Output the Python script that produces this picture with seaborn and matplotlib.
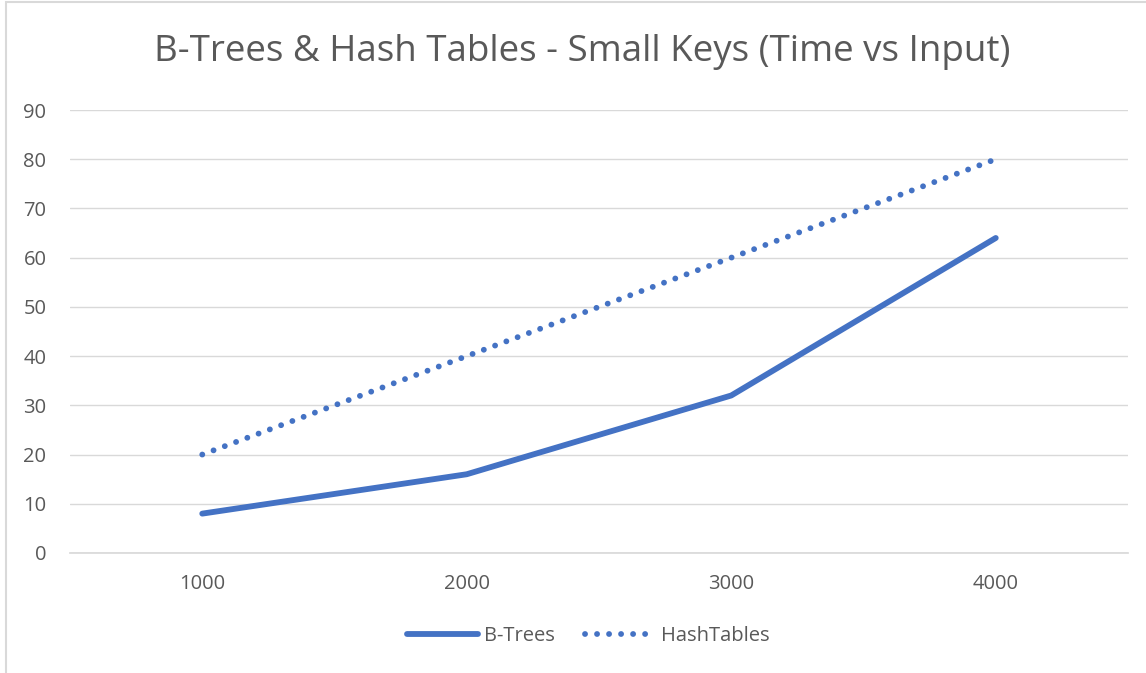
import matplotlib
matplotlib.use("Agg")
import matplotlib.pyplot as plt
import seaborn as sns
import pandas as pd
from matplotlib.patches import Rectangle

# data
inputs = ["1000", "2000", "3000", "4000"]
btrees = [8, 16, 32, 64]
hashtables = [20, 40, 60, 80]

df = pd.DataFrame({
    "Input": inputs * 2,
    "Time": btrees + hashtables,
    "Series": ["B-Trees"] * 4 + ["HashTables"] * 4,
})

sns.set_theme(style="white")
plt.rcParams["font.family"] = ["Open Sans", "DejaVu Sans"]
gray = "#595959"
blue = "#4472C4"
lw = 4.2

fig = plt.figure(figsize=(11.46, 6.73), dpi=100)
ax = fig.add_axes([70 / 1146, 1 - 553 / 673, (1128 - 70) / 1146, (553 - 110) / 673])

sns.lineplot(data=df, x="Input", y="Time", hue="Series", style="Series",
             palette={"B-Trees": blue, "HashTables": blue},
             dashes={"B-Trees": "", "HashTables": (0.01, 2.05)},
             linewidth=lw, ax=ax, legend=True)
for ln in ax.get_lines():
    ln.set_dash_capstyle("round")
    ln.set_solid_capstyle("round")

ax.set_xlim(-0.5, 3.5)
ax.set_ylim(0, 90)
ax.set_yticks(range(0, 91, 10))
ax.yaxis.grid(True, color="#D9D9D9", linewidth=1)
ax.set_axisbelow(True)
for s in ["top", "right", "left"]:
    ax.spines[s].set_visible(False)
ax.spines["bottom"].set_color("#D9D9D9")
ax.tick_params(axis="both", length=0, labelsize=14.5, colors=gray)
ax.tick_params(axis="y", pad=17)
ax.tick_params(axis="x", pad=15)
ax.set_xlabel("")
ax.set_ylabel("")

fig.text(582 / 1146, 1 - 52 / 673, "B-Trees & Hash Tables - Small Keys (Time vs Input)",
         fontsize=26.5, color=gray, ha="center", va="center")

leg = ax.legend(loc="center", bbox_to_anchor=(0.49, -0.188), ncol=2, frameon=False,
                fontsize=14.5, handlelength=3.5, columnspacing=1.5, handletextpad=0.3)
for t in leg.get_texts():
    t.set_color(gray)
for h in leg.get_lines():
    h.set_dash_capstyle("round")
    h.set_solid_capstyle("round")
    h.set_linewidth(lw)

# light chart border like the Excel frame
fig.patches.append(Rectangle((6 / 1146, -0.1), 1.2, 1.1 - 2.5 / 673, transform=fig.transFigure,
                             fill=False, edgecolor="#D9D9D9", linewidth=1.5))

fig.savefig("out.png", dpi=100)
